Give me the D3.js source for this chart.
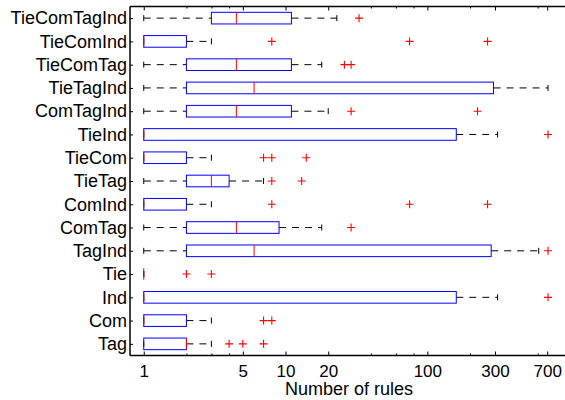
<!DOCTYPE html>
<html><head><meta charset="utf-8">
<script src="https://cdn.jsdelivr.net/npm/d3@7"></script>
<style>
body{margin:0;background:#fff}
svg{display:block}
text{font-family:"Liberation Sans",Arial,Helvetica,sans-serif;fill:#000}
</style>
</head><body>
<svg id="c" width="565" height="400"></svg>
<script>
// bottom to top
const categories = ["Tag","Com","Ind","Tie","TagInd","ComTag","ComInd","TieTag","TieCom","TieInd","ComTagInd","TieTagInd","TieComTag","TieComInd","TieComTagInd"];
const whiskerLow  = [1,1,1,1,1,1,1,1,1,1,1,1,1,1,1];
const q1          = [1,1,1,1,2,2,1,2,1,1,2,2,2,1,3];
const medians     = [2,1,1,1,6,4.5,1,3,1,1,4.5,6,4.5,1,4.5];
const q3          = [2,2,160,1,282,9,2,4,2,160,11,293,11,2,11];
const whiskerHigh = [3,3,313,1,610,18,3,7,3,313,20,710,18,3,23];
const outliers    = [[4,5,7],[7,8],[710],[2,3],[710],[29],[8,75,266],[8,13],[7,8,14],[710],[29,226],[],[26,29],[8,75,266],[33]];
const majorTicks  = [1,5,10,20,100,300,700];
const minorTicks  = [2,3,4,40,60,80,200,600];
const xLabel = "Number of rules";

(function () {
const svg = d3.select("#c");
const L = 130, R = 575, T = 6.5, B = 355.5;
const x = d3.scaleLog().domain([0.8, 1100]).range([L, R]);
const y = d3.scaleLinear().domain([0.5, 15.5]).range([B, T]);
const halfBox = (y(0) - y(0.5)) / 2;
const capHalf = 3;

const g = svg.append("g");

categories.forEach((c, i) => {
  const p = y(i + 1);
  const row = g.append("g");
  row.append("line").attr("x1", x(whiskerLow[i])).attr("x2", x(q1[i])).attr("y1", p).attr("y2", p)
    .attr("stroke", "#000").attr("stroke-width", 1).attr("stroke-dasharray", "7,6");
  row.append("line").attr("x1", x(q3[i])).attr("x2", x(whiskerHigh[i])).attr("y1", p).attr("y2", p)
    .attr("stroke", "#000").attr("stroke-width", 1).attr("stroke-dasharray", "7,6");
  [whiskerLow[i], whiskerHigh[i]].forEach(v => {
    row.append("line").attr("x1", x(v)).attr("x2", x(v)).attr("y1", p - capHalf).attr("y2", p + capHalf)
      .attr("stroke", "#000").attr("stroke-width", 1);
  });
  row.append("rect").attr("x", x(q1[i])).attr("y", p - halfBox)
    .attr("width", Math.max(0, x(q3[i]) - x(q1[i]))).attr("height", 2 * halfBox)
    .attr("fill", "none").attr("stroke", "#0000ff").attr("stroke-width", 1);
  row.append("line").attr("x1", x(medians[i])).attr("x2", x(medians[i]))
    .attr("y1", p - halfBox).attr("y2", p + halfBox)
    .attr("stroke", "#ff0000").attr("stroke-width", 1);
  outliers[i].forEach(v => {
    const ox = x(v);
    row.append("path").attr("d", `M${ox-4},${p}H${ox+4}M${ox},${p-4}V${p+4}`)
      .attr("stroke", "#ff0000").attr("stroke-width", 1.1).attr("fill", "none");
  });
});

const fmt = d => String(d);
const xAxis = d3.axisBottom(x).tickValues(majorTicks).tickFormat(fmt).tickSizeInner(-4).tickSizeOuter(0).tickPadding(9);
const gx = svg.append("g").attr("transform", `translate(0,${B})`).call(xAxis);
gx.select(".domain").remove();
gx.selectAll("text").attr("font-size", 17).attr("font-family", "Liberation Sans, Arial, sans-serif");

const xMinor = d3.axisBottom(x).tickValues(minorTicks).tickFormat("").tickSizeInner(-2).tickSizeOuter(0);
const gxm = svg.append("g").attr("transform", `translate(0,${B})`).call(xMinor);
gxm.select(".domain").remove();

const xTop = d3.axisTop(x).tickValues(majorTicks).tickFormat("").tickSizeInner(-4).tickSizeOuter(0);
const gt = svg.append("g").attr("transform", `translate(0,${T})`).call(xTop);
gt.select(".domain").remove();
const xTopMinor = d3.axisTop(x).tickValues(minorTicks).tickFormat("").tickSizeInner(-2).tickSizeOuter(0);
const gtm = svg.append("g").attr("transform", `translate(0,${T})`).call(xTopMinor);
gtm.select(".domain").remove();

const yAxis = d3.axisLeft(y).tickValues(d3.range(1, categories.length + 1))
  .tickFormat(d => categories[d - 1]).tickSizeInner(-3).tickSizeOuter(0).tickPadding(3);
const gy = svg.append("g").attr("transform", `translate(${L},0)`).call(yAxis);
gy.select(".domain").remove();
gy.selectAll("text").attr("font-size", 18).attr("font-family", "Liberation Sans, Arial, sans-serif");

svg.append("line").attr("x1", L).attr("x2", L).attr("y1", T).attr("y2", B)
  .attr("stroke", "#000").attr("stroke-width", 1.5);
svg.append("line").attr("x1", L).attr("x2", 565).attr("y1", B).attr("y2", B)
  .attr("stroke", "#000").attr("stroke-width", 1.5);
svg.append("line").attr("x1", L).attr("x2", 565).attr("y1", T).attr("y2", T)
  .attr("stroke", "#000").attr("stroke-width", 1.5);

svg.append("text").attr("x", 349).attr("y", 395).attr("text-anchor", "middle")
  .attr("font-size", 18).text(xLabel);
})();
</script>
</body></html>
